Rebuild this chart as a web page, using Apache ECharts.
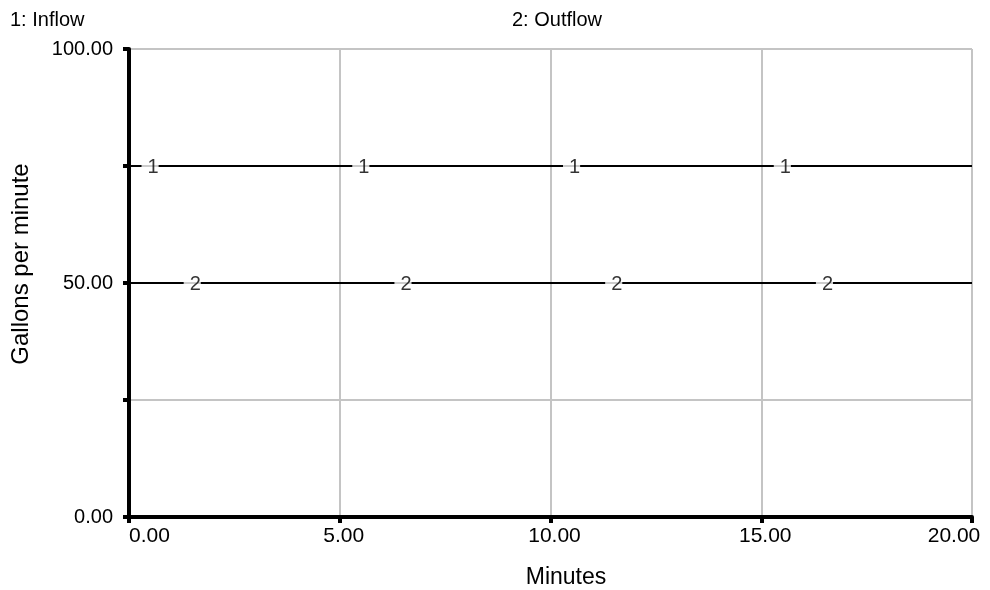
<!DOCTYPE html>
<html><head><meta charset="utf-8">
<script src="https://cdn.jsdelivr.net/npm/echarts@6/dist/echarts.min.js"></script>
<style>html,body{margin:0;padding:0;background:#fff}#c{width:990px;height:590px}</style>
</head><body><div id="c"></div>
<script>
const xRange = [0, 20];
const inflowValue = [[0, 75], [20, 75]];
const outflowValue = [[0, 50], [20, 50]];
const inflowMarkerX = [0.5, 5.5, 10.5, 15.5];
const outflowMarkerX = [1.5, 6.5, 11.5, 16.5];
const inflowLevel = 75;
const outflowLevel = 50;
const yLabels = [0, 50, 100];
const titles = ['1: Inflow', '2: Outflow'];
const xName = 'Minutes';
const yName = 'Gallons per minute';

const font = 'Liberation Sans, Arial, sans-serif';
const X_FS = 21;
const Y_FS = 20;
const chart = echarts.init(document.getElementById('c'));
function markers(xs, y, name) {
  return {
    type: 'scatter', symbolSize: 1, itemStyle: {color: 'rgba(0,0,0,0)'}, z: 5,
    data: xs.map(x => [x, y]),
    label: {show: true, position: 'inside', formatter: name, color: '#000', fontFamily: font, fontSize: 20,
      backgroundColor: '#fff', padding: [0, 0, 0, 6], offset: [0, 1]},
    silent: true
  };
}
chart.setOption({
  animation: false,
  textStyle: {fontFamily: font},
  graphic: [
    {type: 'text', x: 10, y: 20, style: {text: titles[0], fontSize: 20, fontFamily: font, fill: '#000', align: 'left', verticalAlign: 'middle'}},
    {type: 'text', x: 602, y: 20, style: {text: titles[1], fontSize: 20, fontFamily: font, fill: '#000', align: 'right', verticalAlign: 'middle'}},
    {type: 'text', x: 566, y: 578, style: {text: xName, fontSize: 23, fontFamily: font, fill: '#000', align: 'center', verticalAlign: 'middle'}},
    {type: 'text', x: 21, y: 264, rotation: Math.PI / 2, style: {text: yName, fontSize: 24, fontFamily: font, fill: '#000', align: 'center', verticalAlign: 'middle'}}
  ],
  grid: {left: 129, right: 18, top: 49, bottom: 73, containLabel: false, outerBoundsMode: 'none'},
  xAxis: {
    type: 'value', min: xRange[0], max: xRange[1], interval: 5,
    axisLine: {lineStyle: {color: '#000', width: 4}},
    axisTick: {show: true, length: 6, lineStyle: {color: '#000', width: 4}},
    axisLabel: {fontSize: X_FS, color: '#000', margin: 9, alignMinLabel: 'left',
      formatter: v => v === xRange[1] ? '{last|' + v.toFixed(2) + '}' : (v === xRange[0] ? v.toFixed(2) : '{mid|' + v.toFixed(2) + '}'),
      rich: {
        last: {fontSize: X_FS, color: '#000', fontFamily: font, padding: [0, 36, 0, 0]},
        mid: {fontSize: X_FS, color: '#000', fontFamily: font, padding: [0, 0, 0, 8]}
      }},
    splitLine: {show: true, lineStyle: {color: '#c4c4c4', width: 2}}
  },
  yAxis: {
    type: 'value', min: 0, max: 100, interval: 25,
    axisLine: {show: true, lineStyle: {color: '#000', width: 4}},
    axisTick: {show: true, length: 6, lineStyle: {color: '#000', width: 4}},
    axisLabel: {fontSize: Y_FS, color: '#000', margin: 16, formatter: v => yLabels.includes(v) ? v.toFixed(2) : ''},
    splitLine: {show: true, lineStyle: {color: '#c4c4c4', width: 2}}
  },
  series: [
    {type: 'line', data: inflowValue, symbol: 'none', lineStyle: {color: '#000', width: 2}, z: 3, silent: true},
    {type: 'line', data: outflowValue, symbol: 'none', lineStyle: {color: '#000', width: 2}, z: 3, silent: true},
    markers(inflowMarkerX, inflowLevel, '1'),
    markers(outflowMarkerX, outflowLevel, '2')
  ]
});
</script></body></html>
